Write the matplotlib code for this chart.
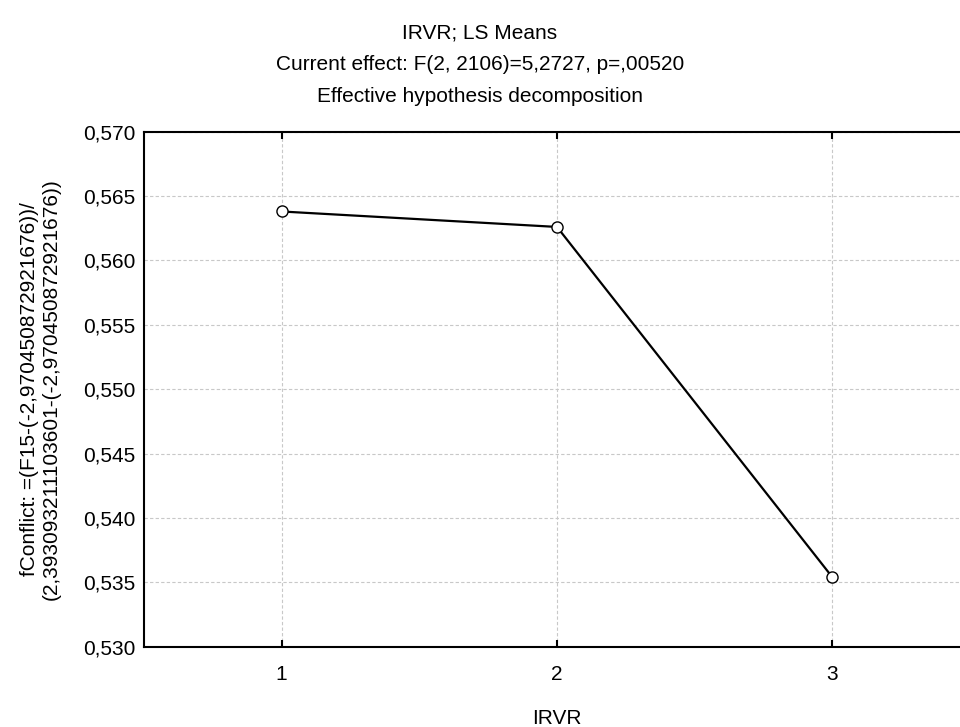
import matplotlib
matplotlib.use('Agg')
import matplotlib.pyplot as plt
from matplotlib.ticker import FuncFormatter, MultipleLocator

plt.rcParams['font.family'] = ['Liberation Sans', 'DejaVu Sans']

levels = [1, 2, 3]
ls_means = [0.5638, 0.5626, 0.5354]

title_lines = [
    'IRVR; LS Means',
    'Current effect: F(2, 2106)=5,2727, p=,00520',
    'Effective hypothesis decomposition',
]
ylabel = 'fConflict: =(F15-(-2,970450872921676))/\n(2,393093211103601-(-2,970450872921676))'
xlabel = 'IRVR'


def main():
    fig = plt.figure(figsize=(9.6, 7.27), dpi=100)
    ax = fig.add_axes([0.15, 0.1105, 0.8604, 0.7084])

    ax.plot(levels, ls_means, color='black', lw=1.6, marker='o', ms=8,
            mfc='white', mec='black', mew=1.0, zorder=3)

    ax.set_xlim(0.5, 3.5)
    ax.set_ylim(0.530, 0.570)
    ax.set_xticks(levels)
    ax.yaxis.set_major_locator(MultipleLocator(0.005))
    ax.yaxis.set_major_formatter(FuncFormatter(lambda v, p: f'{v:.3f}'.replace('.', ',')))

    ax.grid(True, color='#c8c8c8', ls=(0, (3, 2)), lw=0.8)
    ax.set_axisbelow(True)
    for s in ax.spines.values():
        s.set_linewidth(1.5)
    ax.tick_params(axis='x', direction='in', top=True, length=5, width=1.5,
                   labelsize=15, pad=13)
    ax.tick_params(axis='y', length=0, labelsize=15, pad=6)

    ax.set_xlabel(xlabel, fontsize=15)
    ax.xaxis.set_label_coords(0.5, -0.121)
    ax.set_ylabel(ylabel, fontsize=15, labelpad=16)

    for i, t in enumerate(title_lines):
        fig.text(0.5, 1 - (33 + i * 32) / 727, t, ha='center', va='center', fontsize=15)

    fig.savefig('out.png', dpi=100)


if __name__ == '__main__':
    main()
